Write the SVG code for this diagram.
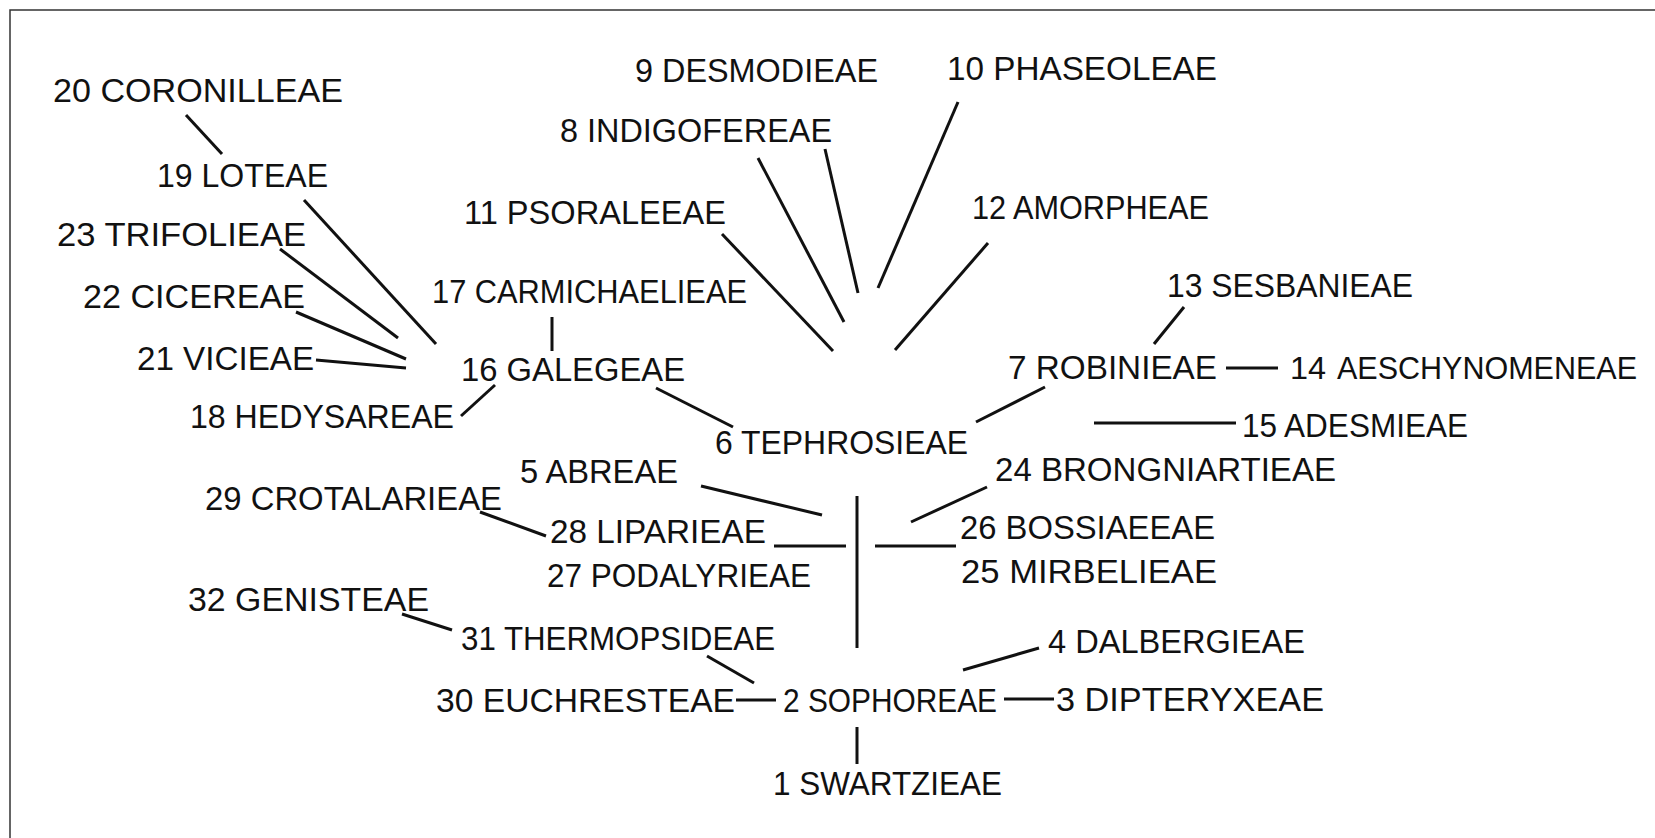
<svg xmlns="http://www.w3.org/2000/svg" width="1655" height="838" viewBox="0 0 1655 838">
<style>
.t{font-family:"Liberation Sans",Arial,sans-serif;font-size:34px;fill:#111;}
.c line{stroke:#111;stroke-width:3;stroke-linecap:butt;}
.b{stroke:#333;stroke-width:1.5;fill:none;}
</style>
<rect width="1655" height="838" fill="#fff"/>
<path class="b" d="M10,838 V10 H1655"/>
<g class="c" id="connectors">
<line x1="186" y1="115" x2="222" y2="154"/>
<line x1="304" y1="200" x2="436" y2="344"/>
<line x1="280" y1="249" x2="398" y2="338"/>
<line x1="296" y1="312" x2="406" y2="359"/>
<line x1="316" y1="360" x2="406" y2="368"/>
<line x1="461" y1="416" x2="495" y2="385"/>
<line x1="552" y1="317" x2="552" y2="351"/>
<line x1="656" y1="388" x2="733" y2="427"/>
<line x1="1045" y1="387" x2="976" y2="422"/>
<line x1="722" y1="234" x2="833" y2="351"/>
<line x1="758" y1="158" x2="844" y2="322"/>
<line x1="825" y1="149" x2="858" y2="293"/>
<line x1="958" y1="102" x2="878" y2="288"/>
<line x1="988" y1="243" x2="895" y2="350"/>
<line x1="1184" y1="307" x2="1154" y2="344"/>
<line x1="1226" y1="368" x2="1278" y2="368"/>
<line x1="1094" y1="423" x2="1236" y2="423"/>
<line x1="857" y1="496" x2="857" y2="648"/>
<line x1="701" y1="486" x2="822" y2="515"/>
<line x1="987" y1="487" x2="911" y2="522"/>
<line x1="774" y1="546" x2="846" y2="546"/>
<line x1="875" y1="546" x2="956" y2="546"/>
<line x1="480" y1="512" x2="546" y2="536"/>
<line x1="402" y1="614" x2="452" y2="630"/>
<line x1="707" y1="656" x2="754" y2="683"/>
<line x1="736" y1="700" x2="776" y2="700"/>
<line x1="1039" y1="648" x2="963" y2="670"/>
<line x1="1004" y1="699" x2="1054" y2="699"/>
<line x1="857" y1="727" x2="857" y2="764"/>
</g>
<g id="n20"><text class="t" x="53" y="102" textLength="290" lengthAdjust="spacingAndGlyphs">20 CORONILLEAE</text></g>
<g id="n19"><text class="t" x="157" y="187" textLength="171" lengthAdjust="spacingAndGlyphs">19 LOTEAE</text></g>
<g id="n23"><text class="t" x="57" y="246" textLength="249" lengthAdjust="spacingAndGlyphs">23 TRIFOLIEAE</text></g>
<g id="n22"><text class="t" x="83" y="308" textLength="222" lengthAdjust="spacingAndGlyphs">22 CICEREAE</text></g>
<g id="n21"><text class="t" x="137" y="370" textLength="177" lengthAdjust="spacingAndGlyphs">21 VICIEAE</text></g>
<g id="n18"><text class="t" x="190" y="428" textLength="264" lengthAdjust="spacingAndGlyphs">18 HEDYSAREAE</text></g>
<g id="n16"><text class="t" x="461" y="381" textLength="224" lengthAdjust="spacingAndGlyphs">16  GALEGEAE</text></g>
<g id="n17"><text class="t" x="432" y="303" textLength="315" lengthAdjust="spacingAndGlyphs">17 CARMICHAELIEAE</text></g>
<g id="n29"><text class="t" x="205" y="510" textLength="297" lengthAdjust="spacingAndGlyphs">29 CROTALARIEAE</text></g>
<g id="n11"><text class="t" x="464" y="224" textLength="262" lengthAdjust="spacingAndGlyphs">11  PSORALEEAE</text></g>
<g id="n8"><text class="t" x="560" y="142" textLength="272" lengthAdjust="spacingAndGlyphs">8  INDIGOFEREAE</text></g>
<g id="n9"><text class="t" x="635" y="82" textLength="243" lengthAdjust="spacingAndGlyphs">9 DESMODIEAE</text></g>
<g id="n10"><text class="t" x="947" y="80" textLength="270" lengthAdjust="spacingAndGlyphs">10  PHASEOLEAE</text></g>
<g id="n12"><text class="t" x="972" y="219" textLength="237" lengthAdjust="spacingAndGlyphs">12 AMORPHEAE</text></g>
<g id="n13"><text class="t" x="1167" y="297" textLength="246" lengthAdjust="spacingAndGlyphs">13  SESBANIEAE</text></g>
<g id="n7"><text class="t" x="1008" y="379" textLength="209" lengthAdjust="spacingAndGlyphs">7  ROBINIEAE</text></g>
<g id="n14"><text class="t" x="1290" y="379" style="font-size:32px"><tspan x="1290" textLength="36" lengthAdjust="spacingAndGlyphs">14</tspan><tspan x="1337" textLength="300" lengthAdjust="spacingAndGlyphs">AESCHYNOMENEAE</tspan></text></g>
<g id="n15"><text class="t" x="1242" y="437" textLength="226" lengthAdjust="spacingAndGlyphs">15 ADESMIEAE</text></g>
<g id="n24"><text class="t" x="995" y="481" textLength="341" lengthAdjust="spacingAndGlyphs">24 BRONGNIARTIEAE</text></g>
<g id="n6"><text class="t" x="715" y="454" textLength="253" lengthAdjust="spacingAndGlyphs">6  TEPHROSIEAE</text></g>
<g id="n5"><text class="t" x="520" y="483" textLength="158" lengthAdjust="spacingAndGlyphs">5 ABREAE</text></g>
<g id="n28"><text class="t" x="550" y="543" textLength="216" lengthAdjust="spacingAndGlyphs">28 LIPARIEAE</text></g>
<g id="n26"><text class="t" x="960" y="539" textLength="255" lengthAdjust="spacingAndGlyphs">26 BOSSIAEEAE</text></g>
<g id="n27"><text class="t" x="547" y="587" textLength="264" lengthAdjust="spacingAndGlyphs">27 PODALYRIEAE</text></g>
<g id="n25"><text class="t" x="961" y="583" textLength="256" lengthAdjust="spacingAndGlyphs">25 MIRBELIEAE</text></g>
<g id="n32"><text class="t" x="188" y="611" textLength="241" lengthAdjust="spacingAndGlyphs">32 GENISTEAE</text></g>
<g id="n31"><text class="t" x="461" y="650" textLength="314" lengthAdjust="spacingAndGlyphs">31 THERMOPSIDEAE</text></g>
<g id="n4"><text class="t" x="1048" y="653" textLength="257" lengthAdjust="spacingAndGlyphs">4  DALBERGIEAE</text></g>
<g id="n30"><text class="t" x="436" y="712" textLength="299" lengthAdjust="spacingAndGlyphs">30  EUCHRESTEAE</text></g>
<g id="n2"><text class="t" x="783" y="712" textLength="214" lengthAdjust="spacingAndGlyphs">2 SOPHOREAE</text></g>
<g id="n3"><text class="t" x="1056" y="711" textLength="268" lengthAdjust="spacingAndGlyphs">3  DIPTERYXEAE</text></g>
<g id="n1"><text class="t" x="773" y="795" textLength="229" lengthAdjust="spacingAndGlyphs">1 SWARTZIEAE</text></g>
</svg>
